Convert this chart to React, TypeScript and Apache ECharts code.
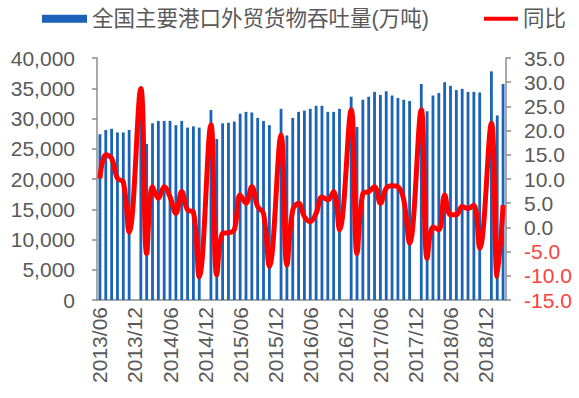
import React, { useEffect, useRef } from "react";
import * as echarts from "echarts";

const categories = [
  "2013/06","2013/07","2013/08","2013/09","2013/10","2013/11","2013/12",
  "2014/01","2014/02","2014/03","2014/04","2014/05","2014/06","2014/07","2014/08","2014/09","2014/10","2014/11","2014/12",
  "2015/01","2015/02","2015/03","2015/04","2015/05","2015/06","2015/07","2015/08","2015/09","2015/10","2015/11","2015/12",
  "2016/01","2016/02","2016/03","2016/04","2016/05","2016/06","2016/07","2016/08","2016/09","2016/10","2016/11","2016/12",
  "2017/01","2017/02","2017/03","2017/04","2017/05","2017/06","2017/07","2017/08","2017/09","2017/10","2017/11","2017/12",
  "2018/01","2018/02","2018/03","2018/04","2018/05","2018/06","2018/07","2018/08","2018/09","2018/10","2018/11","2018/12",
  "2019/01","2019/02","2019/03",
];

const throughput = [
  27400, 28100, 28300, 27700, 27700, 28100, null,
  31000, 25800, 29200, 29600, 29600, 29600, 28900, 29600, 28500, 28700, 28500, null,
  31400, 26600, 29200, 29300, 29500, 30800, 31100, 31000, 30100, 29600, 28900, null,
  31600, 27200, 30100, 31100, 31300, 31600, 32100, 32100, 31100, 31100, 31600, null,
  33600, 28600, 33100, 33600, 34400, 33900, 34500, 33800, 33400, 33100, 32900, null,
  35700, 31200, 33800, 34200, 36000, 35400, 34700, 34900, 34400, 34400, 34300, null,
  37800, 30500, 35700,
];

const yoy = [
  10.1, 15.0, 14.3, 10.1, 9.4, -1.0, null,
  28.7, -5.4, 8.4, 6.0, 8.4, 6.3, 2.9, 7.4, 3.6, 3.2, -10.2, null,
  21.2, -9.8, -1.2, -1.1, -0.5, 6.7, 5.0, 8.4, 4.3, 2.9, -8.1, null,
  19.1, -7.8, 3.6, 5.0, 2.2, 1.2, 2.9, 6.3, 5.7, 7.4, -0.5, null,
  24.3, -5.4, 7.0, 7.4, 8.4, 5.0, 8.1, 8.6, 8.4, 5.7, -3.3, null,
  24.3, -6.4, 0.1, -0.5, 6.7, 2.6, 2.6, 4.3, 3.9, 4.6, -4.3, null,
  21.5, -10.2, 4.6,
];

const barName = "全国主要港口外贸货物吞吐量(万吨)";
const lineName = "同比";

const FONT = "'Liberation Sans', Arial, 'Noto Sans CJK SC', sans-serif";
const GRAY = "#595959";
const AXIS = "#8c8c8c";

export default function App() {
  const ref = useRef<HTMLDivElement>(null);
  useEffect(() => {
    if (!ref.current) return;
    const chart = echarts.init(ref.current, undefined, { renderer: "svg" });
    chart.setOption({
      animation: false,
      textStyle: { fontFamily: FONT },
      legend: [
        {
          data: [{ name: barName, icon: "rect" }],
          left: 37,
          top: 3,
          itemWidth: 45,
          itemHeight: 8,
          itemGap: 6,
          selectedMode: false,
          textStyle: { fontSize: 21.5, color: GRAY, fontFamily: FONT },
        },
        {
          data: [{ name: lineName, icon: "rect", itemStyle: { color: "#ff0000" } }],
          left: 479,
          top: 3,
          itemWidth: 34,
          itemHeight: 4,
          selectedMode: false,
          textStyle: { fontSize: 21.5, color: GRAY, fontFamily: FONT },
        },
      ],
      grid: { left: 97, right: 73, top: 58, bottom: 98, containLabel: false },
      xAxis: {
        type: "category",
        data: categories,
        boundaryGap: true,
        axisLine: { lineStyle: { color: AXIS, width: 1.5 } },
        axisTick: { interval: 5, alignWithLabel: false, length: 5, lineStyle: { color: AXIS, width: 1.5 } },
        axisLabel: { interval: 5, rotate: 90, margin: 7, fontSize: 21, color: GRAY, fontFamily: FONT },
        splitLine: { show: false },
      },
      yAxis: [
        {
          type: "value",
          min: 0,
          max: 40000,
          interval: 5000,
          axisLine: { show: true, lineStyle: { color: AXIS, width: 1.5 } },
          axisTick: { show: true, length: 5, lineStyle: { color: AXIS, width: 1.5 } },
          axisLabel: {
            margin: 22,
            fontSize: 21,
            color: GRAY,
            fontFamily: FONT,
            formatter: (v: number) => v.toLocaleString("en-US"),
          },
          splitLine: { show: false },
        },
        {
          type: "value",
          min: -15,
          max: 35,
          interval: 5,
          position: "right",
          axisLine: { show: true, lineStyle: { color: AXIS, width: 1.5 } },
          axisTick: { show: true, length: 5, lineStyle: { color: AXIS, width: 1.5 } },
          axisLabel: {
            margin: 18,
            fontSize: 21,
            fontFamily: FONT,
            color: (v: any) => (Number(v) < 0 ? "#ff4040" : GRAY),
            formatter: (v: number) => v.toFixed(1),
          },
          splitLine: { show: false },
        },
      ],
      series: [
        {
          name: barName,
          type: "bar",
          data: throughput,
          yAxisIndex: 0,
          barWidth: "48%",
          itemStyle: { color: "#1b63b8" },
        },
        {
          name: lineName,
          type: "line",
          data: yoy,
          yAxisIndex: 1,
          smooth: 0.4,
          connectNulls: true,
          symbol: "none",
          lineStyle: { color: "#ff0000", width: 5 },
          itemStyle: { color: "#ff0000" },
        },
      ],
    });
    return () => chart.dispose();
  }, []);
  return (
    <div
      ref={ref}
      style={{ position: "fixed", left: 0, top: 0, width: 579, height: 398, background: "#fff" }}
    />
  );
}
